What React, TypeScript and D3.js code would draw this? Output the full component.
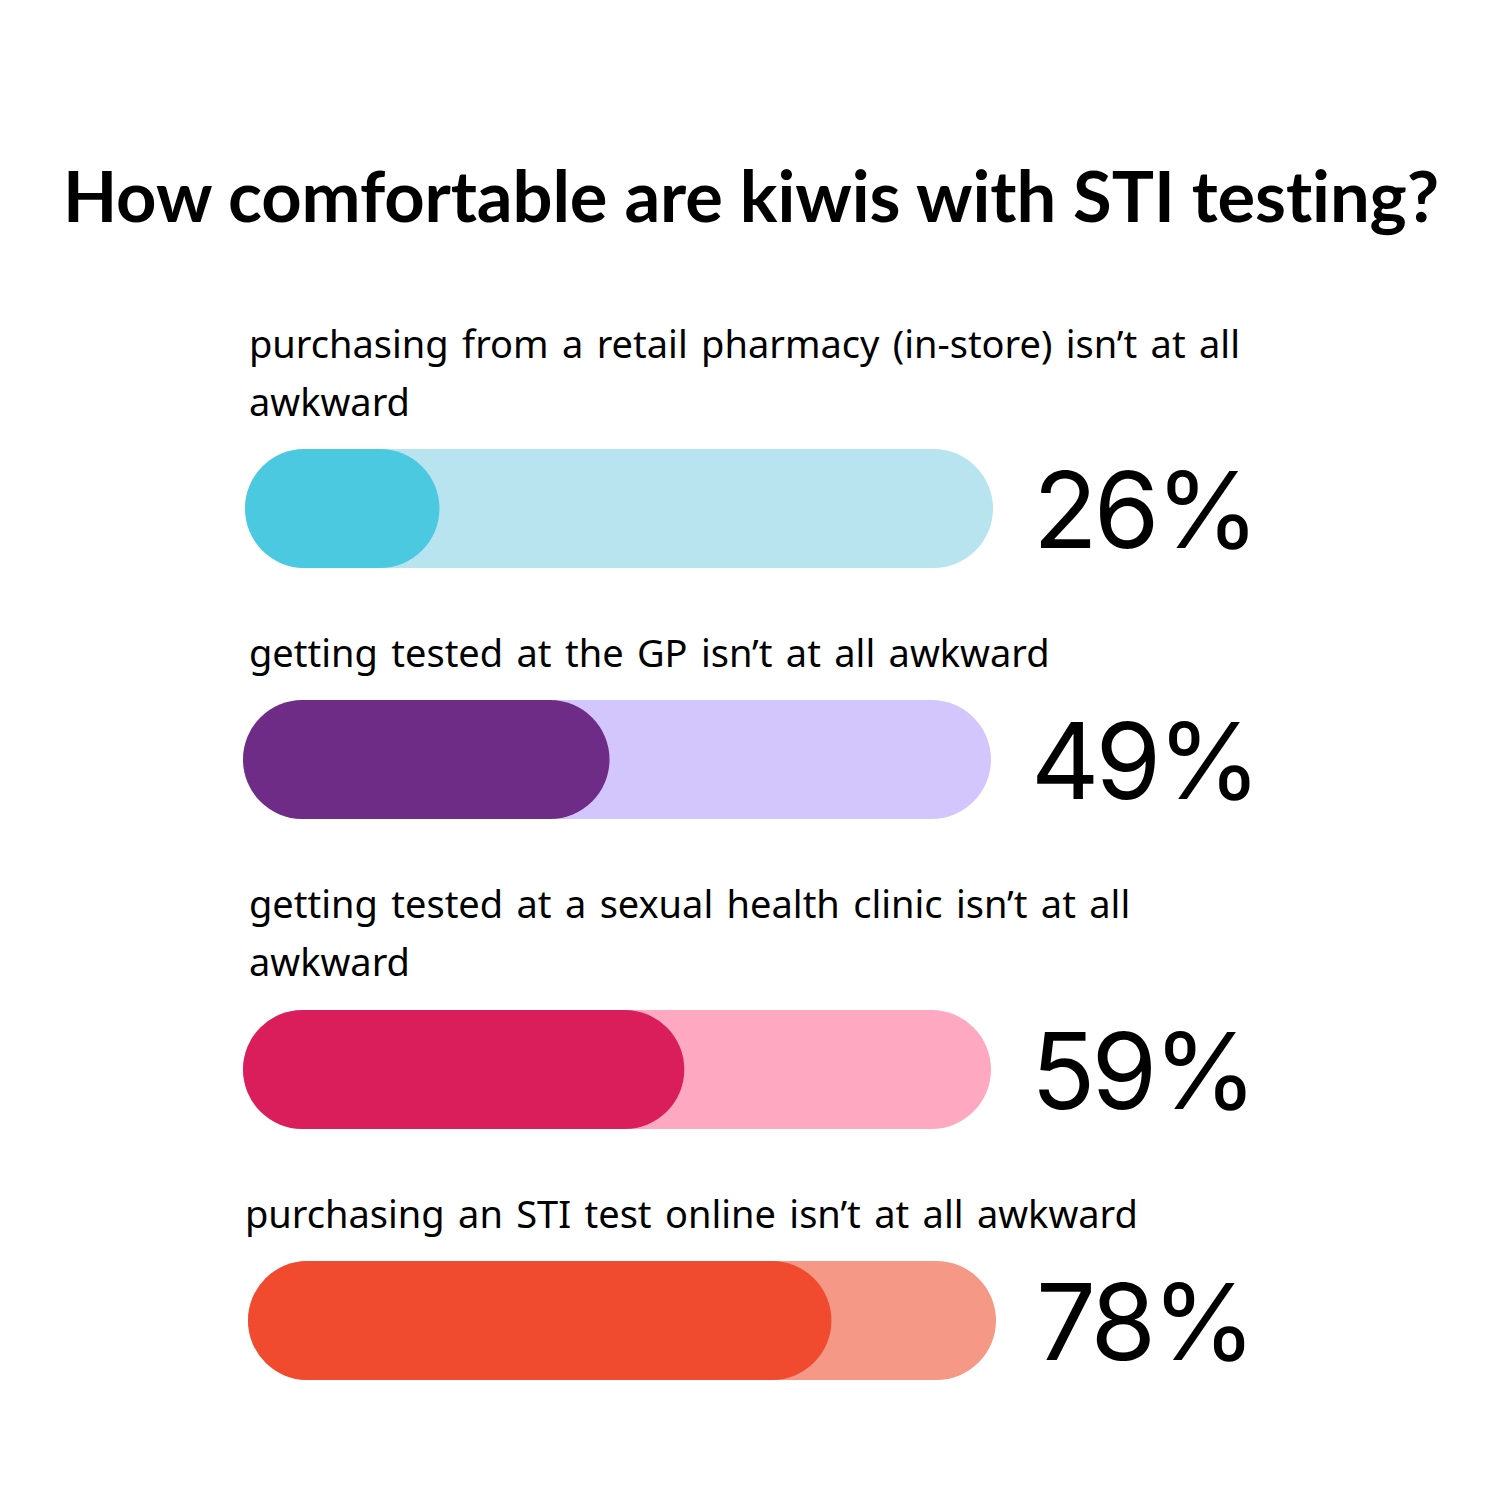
import React, { useEffect, useRef } from 'react';
import * as d3 from 'd3';

const title = 'How comfortable are kiwis with STI testing?';
const labels: string[][] = [
  ['purchasing from a retail pharmacy (in-store) isn’t at all', 'awkward'],
  ['getting tested at the GP isn’t at all awkward'],
  ['getting tested at a sexual health clinic isn’t at all', 'awkward'],
  ['purchasing an STI test online isn’t at all awkward'],
];
const values = [26, 49, 59, 78];
const fillColors = ['#4ac9e1', '#6e2c87', '#da1e5b', '#f04a2f'];
const trackColors = ['#b8e4ef', '#d2c6fd', '#fea9c1', '#f59886'];

// layout per row: label baseline and bar top (bars drift slightly like the original)
const labelY = [358, 667, 918, 1228];
const barTop = [449, 700, 1010, 1261];
const barX = [245, 243, 243, 248];

const App: React.FC = () => {
  const svgRef = useRef<SVGSVGElement>(null);

  useEffect(() => {
    if (!svgRef.current) return;
    const svg = d3.select(svgRef.current);
    svg.selectAll('*').remove();

    const barW = 748;
    const barH = 119;

    svg.append('rect').attr('width', 1500).attr('height', 1500).attr('fill', '#fff');

    svg.append('text')
      .attr('x', 751)
      .attr('y', 222)
      .attr('text-anchor', 'middle')
      .style('font-family', 'Lato, sans-serif')
      .style('font-weight', 700)
      .style('font-size', '70.5px')
      .style('letter-spacing', '-0.1px')
      .attr('fill', '#000')
      .text(title);

    values.forEach((v, i) => {
      const x = d3.scaleLinear().domain([0, 100]).range([barX[i], barX[i] + barW]);
      const g = svg.append('g');

      const t = g.append('text')
        .attr('x', 249)
        .attr('y', labelY[i])
        .style('font-family', '"Noto Sans", sans-serif')
        .style('font-size', '38px')
        .style('word-spacing', '3.5px')
        .attr('fill', '#000');
      labels[i].forEach((line, j) => {
        t.append('tspan').attr('x', i === 3 ? 245 : 249).attr('dy', j === 0 ? 0 : 58).text(line);
      });

      g.append('rect')
        .attr('x', x(0))
        .attr('y', barTop[i])
        .attr('width', x(100) - x(0))
        .attr('height', barH)
        .attr('rx', barH / 2)
        .attr('fill', trackColors[i]);

      g.append('rect')
        .attr('x', x(0))
        .attr('y', barTop[i])
        .attr('width', x(v) - x(0))
        .attr('height', barH)
        .attr('rx', barH / 2)
        .attr('fill', fillColors[i]);

      g.append('text')
        .attr('x', x(100) + 40)
        .attr('y', barTop[i] + 99)
        .style('font-family', 'Inter, sans-serif')
        .style('font-weight', 400)
        .style('font-size', '106px')
        .style('letter-spacing', '-4px')
        .attr('fill', '#000')
        .text(`${v}%`);
    });
  }, []);

  return (
    <div>
      <svg ref={svgRef} width="1500" height="1500" style={{ display: 'block', margin: -8 }}></svg>
    </div>
  );
};

export default App;
